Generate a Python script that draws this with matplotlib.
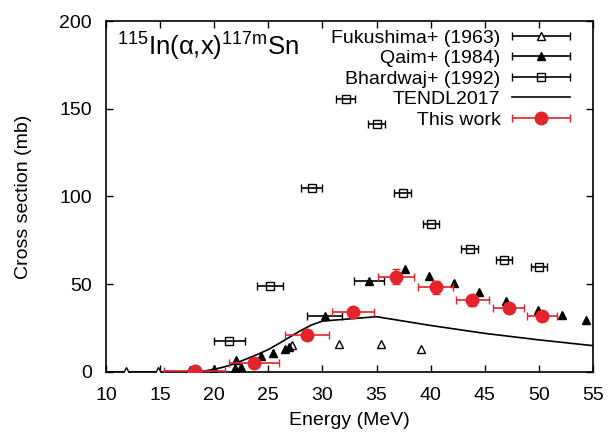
import numpy as np
import matplotlib
matplotlib.use('Agg')
import matplotlib.pyplot as plt
from matplotlib.container import ErrorbarContainer
from matplotlib.legend_handler import HandlerErrorbar

plt.rcParams['font.family'] = ['Liberation Sans', 'DejaVu Sans']
plt.rcParams['mathtext.fontset'] = 'custom'
plt.rcParams['mathtext.rm'] = 'Liberation Sans'
plt.rcParams['mathtext.it'] = 'Liberation Sans:italic'

# Fukushima+ (1963)
fuku_e = [11.85, 14.85, 17.8, 27.2, 31.5, 35.4, 39.1]
fuku_cs = [0.5, 0.5, 1.0, 15.2, 16.0, 16.0, 13.3]

# Qaim+ (1984)
qaim_e = [20.0, 21.9, 22.0, 22.5, 24.3, 25.4, 26.5, 26.9, 30.2, 34.3,
          37.6, 39.85, 42.2, 44.5, 47.0, 49.95, 52.1, 54.4]
qaim_cs = [1.5, 2.0, 6.8, 3.0, 9.0, 11.0, 13.3, 14.4, 32.0, 52.0,
           58.5, 54.8, 50.8, 45.8, 40.2, 35.5, 32.3, 29.6]
qaim_de = [np.nan] * 8 + [1.6, 1.4] + [np.nan] * 8

# Bhardwaj+ (1992)
bhar_e = [21.4, 25.15, 29.0, 32.15, 35.0, 37.4, 40.05, 43.6, 46.8, 50.0]
bhar_cs = [17.7, 49.0, 105.0, 155.4, 141.3, 101.8, 84.3, 69.9, 63.8, 60.0]
bhar_de = [1.4, 1.2, 1.0, 0.85, 0.75, 0.75, 0.75, 0.75, 0.75, 0.75]

# TENDL2017
tendl_e = [10, 15, 18, 19, 20, 21, 22, 23, 24, 25, 26, 27, 28, 29, 30,
           35, 40, 45, 50, 55]
tendl_cs = [0, 0, 0.1, 0.5, 1.5, 3.0, 5.0, 7.5, 10.0, 12.8, 16.3, 20.0,
            23.6, 26.8, 29.0, 31.5, 26.5, 22.0, 18.3, 15.0]

# This work
tw_e = [18.2, 23.7, 28.6, 32.85, 36.8, 40.45, 43.85, 47.2, 50.3]
tw_cs = [0.3, 5.3, 21.0, 34.4, 54.3, 48.3, 40.8, 36.3, 32.1]
tw_de = [2.8, 2.3, 2.05, 1.95, 1.7, 1.6, 1.5, 1.4, 1.4]
tw_dcs = [0.3, 0.8, 1.5, 2.2, 4.3, 3.7, 3.0, 2.5, 2.2]

red = '#e4232b'

fig = plt.figure(figsize=(6.08, 4.34), dpi=100)
ax = fig.add_axes([0.1743, 0.1429, 0.8010, 0.8087])

ax.plot(tendl_e, tendl_cs, color='black', lw=1.2, label='TENDL2017', zorder=2)

ax.errorbar(fuku_e, fuku_cs, xerr=[np.nan] * len(fuku_e), fmt='^', ms=6,
            mfc='white', mec='black', mew=1.0, ecolor='black', elinewidth=1.2,
            capsize=3, label='Fukushima+ (1963)', zorder=3)
ax.errorbar(qaim_e, qaim_cs, xerr=qaim_de, fmt='^', ms=5.5,
            color='black', ecolor='black', elinewidth=1.2,
            capsize=3, label='Qaim+ (1984)', zorder=3)
ax.errorbar(bhar_e, bhar_cs, xerr=bhar_de, fmt='s', ms=6,
            mfc='none', mec='black', mew=1.0, ecolor='black', elinewidth=1.2,
            capsize=3, label='Bhardwaj+ (1992)', zorder=3)

ax.errorbar(tw_e, tw_cs, yerr=tw_dcs, fmt='none', ecolor=red,
            elinewidth=1.2, capsize=3, zorder=4)
ax.errorbar(tw_e, tw_cs, xerr=tw_de, fmt='o', ms=9, color=red,
            ecolor=red, elinewidth=1.2, capsize=3, label='This work', zorder=5)

ax.set_xlim(10, 55)
ax.set_ylim(0, 200)
ax.set_xticks(np.arange(10, 56, 5))
ax.set_yticks(np.arange(0, 201, 50))
ax.tick_params(direction='in', length=5, width=1, top=True, right=True,
               labelsize=14)
ax.tick_params(axis='x', pad=11)
ax.tick_params(axis='y', pad=10)
for s in ax.spines.values():
    s.set_linewidth(1.2)

ax.set_xlabel('Energy (MeV)', fontsize=14, va='top')
ax.xaxis.set_label_coords(0.5, -0.114)
ax.set_ylabel('Cross section (mb)', fontsize=14)
ax.yaxis.set_label_coords(-0.152, 0.5)

ax.text(0.022, 0.972, r'$^{115}$In(α,x)$^{117\mathrm{m}}$Sn',
        transform=ax.transAxes, fontsize=18.5, va='top', ha='left')

handles, labels = ax.get_legend_handles_labels()
order = ['Fukushima+ (1963)', 'Qaim+ (1984)', 'Bhardwaj+ (1992)',
         'TENDL2017', 'This work']
hmap = dict(zip(labels, handles))
ax.legend([hmap[k] for k in order], order, loc='upper right',
          bbox_to_anchor=(0.98, 1.016), frameon=False, markerfirst=False,
          fontsize=14, handlelength=2.95, labelspacing=0.15,
          handletextpad=0.6, borderpad=0.2,
          handler_map={ErrorbarContainer: HandlerErrorbar(xerr_size=1.47)})

fig.savefig('out.png', dpi=100)
